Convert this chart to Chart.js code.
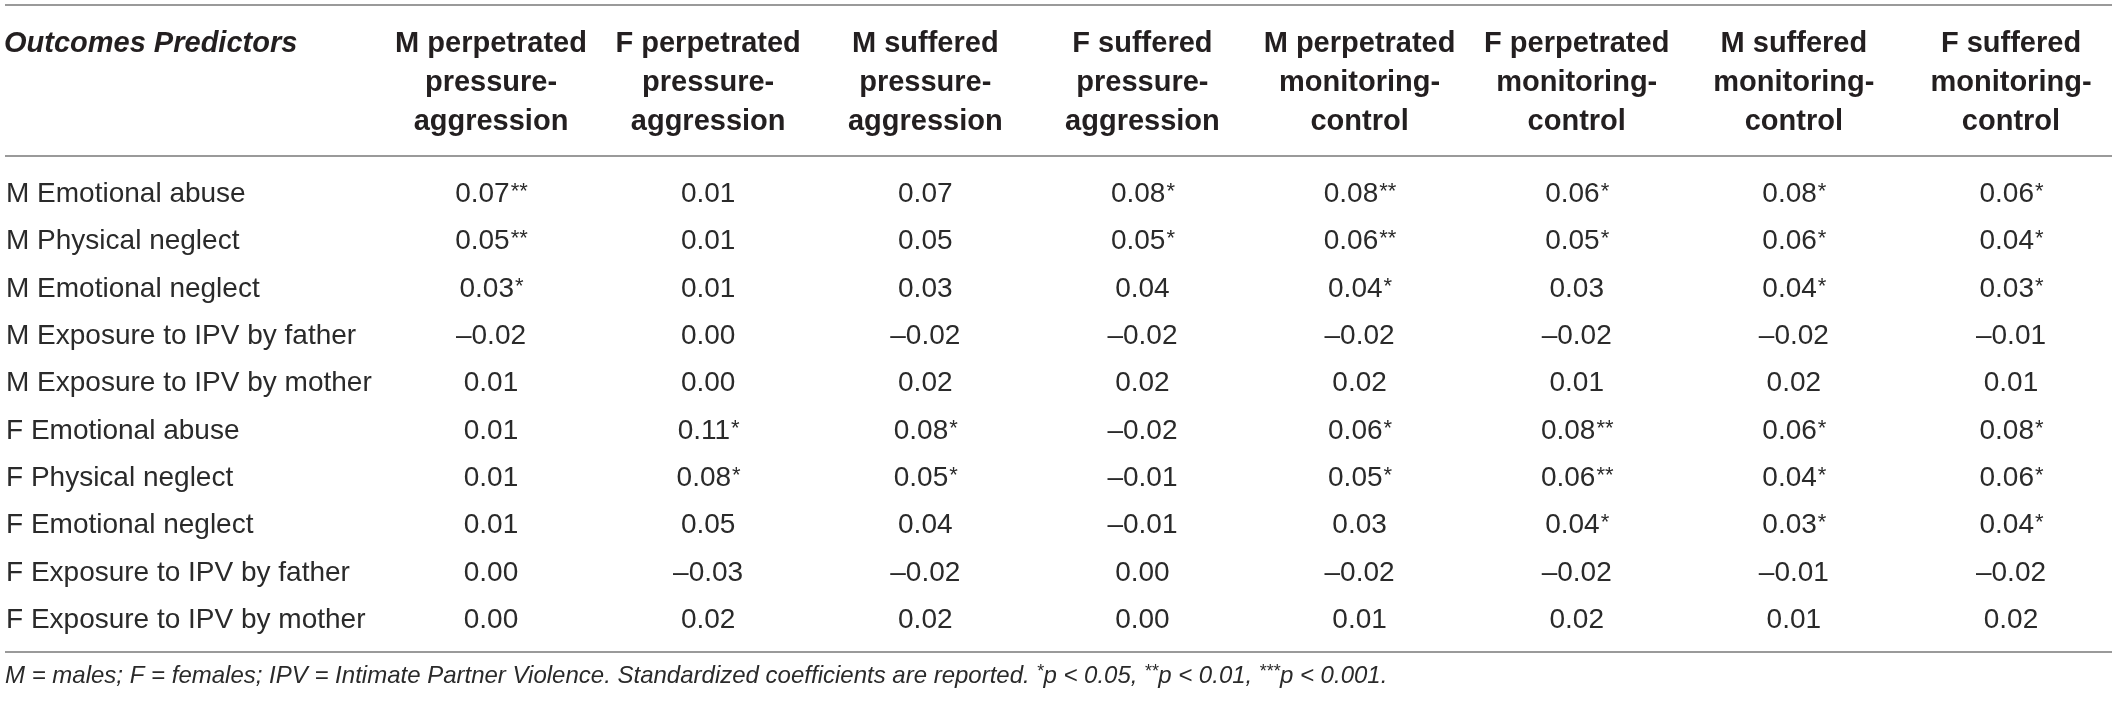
<!DOCTYPE html>
<html>
<head>
<meta charset="utf-8">
<script src="https://cdn.jsdelivr.net/npm/chart.js@4.4.1/dist/chart.umd.min.js"></script>
<style>
  html, body { margin: 0; padding: 0; background: #ffffff; }
  #wrap { width: 2117px; height: 701px; }
</style>
</head>
<body>
<div id="wrap"><canvas id="c" width="2117" height="701"></canvas></div>
<script>
// ---------- DATA ----------
const cornerLabel = "Outcomes Predictors";
const columnHeaders = [
  ["M perpetrated", "pressure-", "aggression"],
  ["F perpetrated", "pressure-", "aggression"],
  ["M suffered", "pressure-", "aggression"],
  ["F suffered", "pressure-", "aggression"],
  ["M perpetrated", "monitoring-", "control"],
  ["F perpetrated", "monitoring-", "control"],
  ["M suffered", "monitoring-", "control"],
  ["F suffered", "monitoring-", "control"]
];
const rowLabels = [
  "M Emotional abuse",
  "M Physical neglect",
  "M Emotional neglect",
  "M Exposure to IPV by father",
  "M Exposure to IPV by mother",
  "F Emotional abuse",
  "F Physical neglect",
  "F Emotional neglect",
  "F Exposure to IPV by father",
  "F Exposure to IPV by mother"
];
// coefficients, one array per column (outcome)
const mPerpPressure = [0.07, 0.05, 0.03, -0.02, 0.01, 0.01, 0.01, 0.01, 0.00, 0.00];
const fPerpPressure = [0.01, 0.01, 0.01, 0.00, 0.00, 0.11, 0.08, 0.05, -0.03, 0.02];
const mSuffPressure = [0.07, 0.05, 0.03, -0.02, 0.02, 0.08, 0.05, 0.04, -0.02, 0.02];
const fSuffPressure = [0.08, 0.05, 0.04, -0.02, 0.02, -0.02, -0.01, -0.01, 0.00, 0.00];
const mPerpMonitor  = [0.08, 0.06, 0.04, -0.02, 0.02, 0.06, 0.05, 0.03, -0.02, 0.01];
const fPerpMonitor  = [0.06, 0.05, 0.03, -0.02, 0.01, 0.08, 0.06, 0.04, -0.02, 0.02];
const mSuffMonitor  = [0.08, 0.06, 0.04, -0.02, 0.02, 0.06, 0.04, 0.03, -0.01, 0.01];
const fSuffMonitor  = [0.06, 0.04, 0.03, -0.01, 0.01, 0.08, 0.06, 0.04, -0.02, 0.02];
// significance stars, one array per column
const mPerpPressureSig = ["**", "**", "*", "", "", "", "", "", "", ""];
const fPerpPressureSig = ["", "", "", "", "", "*", "*", "", "", ""];
const mSuffPressureSig = ["", "", "", "", "", "*", "*", "", "", ""];
const fSuffPressureSig = ["*", "*", "", "", "", "", "", "", "", ""];
const mPerpMonitorSig  = ["**", "**", "*", "", "", "*", "*", "", "", ""];
const fPerpMonitorSig  = ["*", "*", "", "", "", "**", "**", "*", "", ""];
const mSuffMonitorSig  = ["*", "*", "*", "", "", "*", "*", "*", "", ""];
const fSuffMonitorSig  = ["*", "*", "*", "", "", "*", "*", "*", "", ""];
const footnote = [
  ["M = males; F = females; IPV = Intimate Partner Violence. Standardized coefficients are reported. ", false],
  ["*", true], ["p < 0.05, ", false],
  ["**", true], ["p < 0.01, ", false],
  ["***", true], ["p < 0.001.", false]
];

const columnValues = [mPerpPressure, fPerpPressure, mSuffPressure, fSuffPressure,
                      mPerpMonitor, fPerpMonitor, mSuffMonitor, fSuffMonitor];
const columnSig = [mPerpPressureSig, fPerpPressureSig, mSuffPressureSig, fSuffPressureSig,
                   mPerpMonitorSig, fPerpMonitorSig, mSuffMonitorSig, fSuffMonitorSig];

// ---------- STYLE ----------
const FONT = '"Liberation Sans", Arial, Helvetica, sans-serif';
const HEAD = '#231f20';
const TEXT = '#2a2a2a';
const RULE = '#9a9a9a';

function fmt(v) {
  const s = Math.abs(v).toFixed(2);
  return (v < 0 ? '\u2013' : '') + s;
}

// one scatter dataset per column, each point is a table cell
const datasets = columnValues.map((vals, ci) => ({
  label: columnHeaders[ci].join(' '),
  data: vals.map((v, ri) => ({ x: ci, y: ri, v: v, sig: columnSig[ci][ri] })),
  pointRadius: 0,
  pointHoverRadius: 0,
  showLine: false
}));

const tablePlugin = {
  id: 'tablePlugin',
  afterDatasetsDraw(chart) {
    const ctx = chart.ctx;
    const xs = chart.scales.x, ys = chart.scales.y;
    const W = chart.width;
    ctx.save();
    // rules
    ctx.strokeStyle = RULE;
    ctx.lineWidth = 2;
    const rowTop = ys.getPixelForValue(0);
    const rowBot = ys.getPixelForValue(rowLabels.length - 1);
    const rules = [5, rowTop - 36, rowBot + 34];
    rules.forEach(y => {
      ctx.beginPath();
      ctx.moveTo(5, y);
      ctx.lineTo(W - 5, y);
      ctx.stroke();
    });

    ctx.textBaseline = 'alphabetic';
    // header
    ctx.fillStyle = HEAD;
    const headBase = [rowTop - 140, rowTop - 101, rowTop - 62];
    ctx.font = 'italic bold 29px ' + FONT;
    ctx.textAlign = 'left';
    ctx.fillText(cornerLabel, 4, headBase[0]);
    ctx.font = 'bold 29px ' + FONT;
    ctx.textAlign = 'center';
    columnHeaders.forEach((lines, ci) => {
      const x = xs.getPixelForValue(ci);
      lines.forEach((t, li) => ctx.fillText(t, x, headBase[li]));
    });

    // row labels
    ctx.fillStyle = TEXT;
    ctx.font = '28px ' + FONT;
    ctx.textAlign = 'left';
    rowLabels.forEach((t, ri) => {
      ctx.fillText(t, 6, ys.getPixelForValue(ri) + 10);
    });

    // cells
    chart.data.datasets.forEach((ds, di) => {
      const meta = chart.getDatasetMeta(di);
      meta.data.forEach((pt, k) => {
        const d = ds.data[k];
        const num = fmt(d.v);
        ctx.font = '28px ' + FONT;
        const wn = ctx.measureText(num).width;
        ctx.font = '22px ' + FONT;
        const ws = d.sig ? ctx.measureText(d.sig).width : 0;
        const x0 = pt.x - (wn + ws) / 2;
        const base = pt.y + 10;
        ctx.textAlign = 'left';
        ctx.font = '28px ' + FONT;
        ctx.fillText(num, x0, base);
        if (d.sig) {
          ctx.font = '22px ' + FONT;
          ctx.fillText(d.sig, x0 + wn + 1, base - 4);
        }
      });
    });

    // footnote
    let fx = 5;
    const fy = rowBot + 65;
    ctx.textAlign = 'left';
    footnote.forEach(([t, sup]) => {
      ctx.font = 'italic ' + (sup ? '18px ' : '24px ') + FONT;
      ctx.fillText(t, fx, sup ? fy - 6 : fy);
      fx += ctx.measureText(t).width;
    });
    ctx.restore();
  }
};

new Chart(document.getElementById('c'), {
  type: 'scatter',
  data: { datasets },
  options: {
    responsive: false,
    animation: false,
    events: [],
    layout: { padding: { left: 491, right: 106, top: 192, bottom: 83 } },
    plugins: { legend: { display: false }, tooltip: { enabled: false } },
    scales: {
      x: { type: 'linear', min: 0, max: columnHeaders.length - 1, display: false },
      y: { type: 'linear', min: 0, max: rowLabels.length - 1, reverse: true, display: false }
    }
  },
  plugins: [tablePlugin]
});
</script>
</body>
</html>
